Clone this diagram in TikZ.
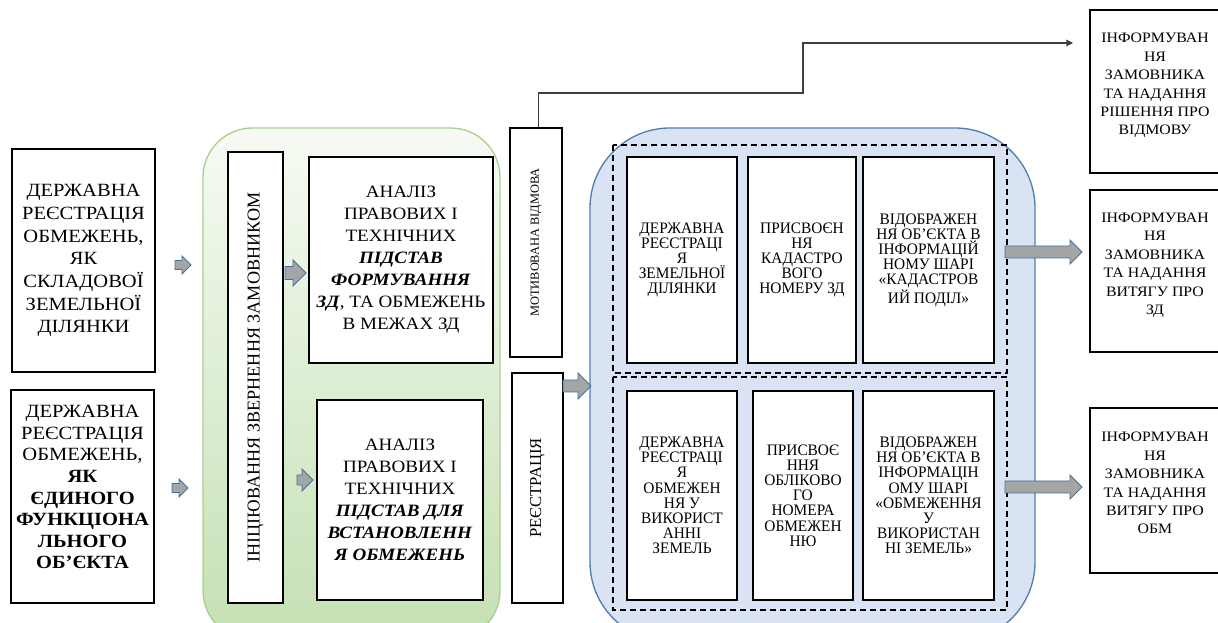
\documentclass[tikz,border=0pt]{standalone}
\usepackage{fontspec}
\setmainfont[FakeStretch=1.1]{Liberation Serif}
\newfontfamily\upfont{Liberation Serif}
\newfontfamily\narrowfont[FakeStretch=0.96]{Liberation Serif}
\usetikzlibrary{arrows.meta}

\definecolor{greenline}{RGB}{169,209,142}
\definecolor{greentop}{RGB}{246,251,243}
\definecolor{greenbot}{RGB}{197,224,180}
\definecolor{blueline}{RGB}{84,126,174}
\definecolor{bluefill}{RGB}{218,227,243}
\definecolor{arrowblue}{RGB}{65,113,156}
\definecolor{arrowgray}{RGB}{165,165,165}
\definecolor{linegray}{RGB}{64,64,64}

\tikzset{
  box/.style={draw, line width=1.1pt, fill=white, align=center, inner sep=0pt},
  dashbox/.style={draw, line width=0.8pt, dash pattern=on 4.5pt off 3pt},
  fatarrow/.style={draw=arrowblue, fill=arrowgray, line width=0.7pt},
  bigtext/.style={font=\fontsize{14}{17}\selectfont},
  midtext/.style={font=\fontsize{13}{16.5}\selectfont},
  smalltext/.style={font=\narrowfont\fontsize{12}{11.4}\selectfont},
  sidetext/.style={font=\fontsize{10.8}{13.8}\selectfont, text depth=11pt}
}

% block arrow: x from, x to, y, half shaft, half head
\newcommand{\fatarrow}[5]{%
  \draw[fatarrow] (#1,#3-#4) -- (#2-#5,#3-#4) -- (#2-#5,#3-#5) -- (#2,#3)
    -- (#2-#5,#3+#5) -- (#2-#5,#3+#4) -- (#1,#3+#4) -- cycle;}

\begin{document}
\begin{tikzpicture}[x=0.75pt, y=-0.75pt]
  \useasboundingbox (0,0) rectangle (1218,623);
  \clip (0,0) rectangle (1218,623);

  % Background areas
  \draw[greenline, line width=1pt, rounded corners=37pt, top color=greentop, bottom color=greenbot]
    (203,128) rectangle (500,640);
  \draw[blueline, line width=1pt, rounded corners=60pt, fill=bluefill]
    (590,128) rectangle (1035,642);

  % Dashed groups
  \draw[dashbox] (613,145) rectangle (1007,373);
  \draw[dashbox] (613,377) rectangle (1007,610);

  % Left column
  \node[box, bigtext, minimum width=107pt, minimum height=167pt] (regsklad) at (83.5,260.5)
    {ДЕРЖАВНА\\РЕЄСТРАЦІЯ\\ОБМЕЖЕНЬ,\\ЯК\\СКЛАДОВОЇ\\ЗЕМЕЛЬНОЇ\\ДІЛЯНКИ};
  \node[box, font=\fontsize{14}{16.2}\selectfont, text depth=14pt, minimum width=107pt, minimum height=160pt] (regfunk) at (82.5,496.5)
    {ДЕРЖАВНА\\РЕЄСТРАЦІЯ\\ОБМЕЖЕНЬ,\\\textbf{ЯК}\\\textbf{ЄДИНОГО}\\\textbf{ФУНКЦІОНА}\\\textbf{ЛЬНОГО}\\\textbf{ОБ’ЄКТА}};

  % Green area
  \node[box, minimum width=41pt, minimum height=338pt] (init) at (255.5,377.5)
    {\rotatebox{90}{\upfont\fontsize{13.6}{16}\selectfont ІНІЦІЮВАННЯ ЗВЕРНЕННЯ ЗАМОВНИКОМ}};
  \node[box, midtext, minimum width=138pt, minimum height=154.5pt] (analzd) at (401,260)
    {АНАЛІЗ\\ПРАВОВИХ І\\ТЕХНІЧНИХ\\\textbf{\textit{ПІДСТАВ}}\\\textbf{\textit{ФОРМУВАННЯ}}\\\textbf{\textit{ЗД}}, ТА ОБМЕЖЕНЬ\\В МЕЖАХ ЗД};
  \node[box, midtext, minimum width=124.5pt, minimum height=150pt] (analobm) at (400,500)
    {АНАЛІЗ\\ПРАВОВИХ І\\ТЕХНІЧНИХ\\\textbf{\textit{ПІДСТАВ ДЛЯ}}\\\textbf{\textit{ВСТАНОВЛЕНН}}\\\textbf{\textit{Я ОБМЕЖЕНЬ}}};

  % Decision column
  \node[box, minimum width=39pt, minimum height=172pt] (motiv) at (536,242.5)
    {\rotatebox{90}{\upfont\fontsize{9.3}{11}\selectfont МОТИВОВАНА ВІДМОВА}};
  \node[box, minimum width=38pt, minimum height=172.5pt] (reg) at (537.5,488)
    {\rotatebox{90}{\upfont\fontsize{12.5}{14}\selectfont РЕЄСТРАЦІЯ}};

  % Blue area, upper row
  \node[box, smalltext, minimum width=82.5pt, minimum height=154.5pt] (regzd) at (682,260)
    {ДЕРЖАВНА\\РЕЄСТРАЦІ\\Я\\ЗЕМЕЛЬНОЇ\\ДІЛЯНКИ};
  \node[box, smalltext, minimum width=81pt, minimum height=154.5pt] (kadnum) at (802,260)
    {ПРИСВОЄН\\НЯ\\КАДАСТРО\\ВОГО\\НОМЕРУ ЗД};
  \node[box, smalltext, minimum width=98pt, minimum height=154.5pt] (kadshar) at (928.5,260)
    {ВІДОБРАЖЕН\\НЯ ОБ’ЄКТА В\\ІНФОРМАЦІЙ\\НОМУ ШАРІ\\«КАДАСТРОВ\\ИЙ ПОДІЛ»};

  % Blue area, lower row
  \node[box, smalltext, minimum width=82.5pt, minimum height=157pt] (regobm) at (682,495.5)
    {ДЕРЖАВНА\\РЕЄСТРАЦІ\\Я\\ОБМЕЖЕН\\НЯ У\\ВИКОРИСТ\\АННІ\\ЗЕМЕЛЬ};
  \node[box, smalltext, minimum width=75pt, minimum height=157pt] (oblnum) at (803,495.5)
    {ПРИСВОЄ\\ННЯ\\ОБЛІКОВО\\ГО\\НОМЕРА\\ОБМЕЖЕН\\НЮ};
  \node[box, smalltext, minimum width=98pt, minimum height=157pt] (obmshar) at (928.5,495.5)
    {ВІДОБРАЖЕН\\НЯ ОБ’ЄКТА В\\ІНФОРМАЦІН\\ОМУ ШАРІ\\«ОБМЕЖЕННЯ\\У\\ВИКОРИСТАН\\НІ ЗЕМЕЛЬ»};

  % Right column
  \node[box, sidetext, minimum width=97.5pt, minimum height=122pt] (infvidm) at (1155,91.5)
    {ІНФОРМУВАН\\НЯ\\ЗАМОВНИКА\\ТА НАДАННЯ\\РІШЕННЯ ПРО\\ВІДМОВУ};
  \node[box, sidetext, minimum width=97.5pt, minimum height=121.5pt] (infzd) at (1155,271)
    {ІНФОРМУВАН\\НЯ\\ЗАМОВНИКА\\ТА НАДАННЯ\\ВИТЯГУ ПРО\\ЗД};
  \node[box, sidetext, minimum width=97.5pt, minimum height=123.5pt] (infobm) at (1155,490.5)
    {ІНФОРМУВАН\\НЯ\\ЗАМОВНИКА\\ТА НАДАННЯ\\ВИТЯГУ ПРО\\ОБМ};

  % Refusal line
  \coordinate (refbend) at (803,93);
  \coordinate (refend) at (1073,43);
  \draw[linegray, line width=0.8pt, -{Triangle[length=5pt, width=5pt]}]
    ([xshift=2.2pt]motiv.north) |- (refbend) |- (refend);

  % Block arrows
  \fatarrow{175}{191}{265}{4.5}{9}
  \fatarrow{172}{188}{488}{4.5}{9}
  \fatarrow{285}{306}{273}{6.5}{13}
  \fatarrow{297}{313}{480}{5}{11}
  \fatarrow{563}{591}{386}{6}{13}
  \fatarrow{1005}{1082}{252}{6}{12}
  \fatarrow{1005}{1082}{487}{6}{12}
\end{tikzpicture}
\end{document}
